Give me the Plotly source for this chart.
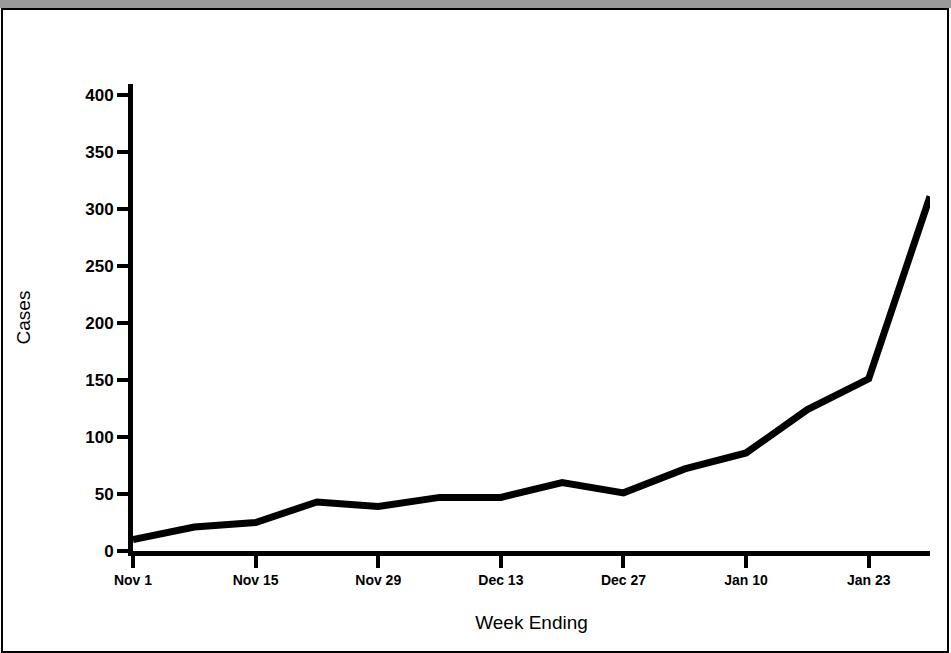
import plotly.graph_objects as go

weeks = ["Nov 1", "Nov 8", "Nov 15", "Nov 22", "Nov 29", "Dec 6", "Dec 13",
         "Dec 20", "Dec 27", "Jan 3", "Jan 10", "Jan 17", "Jan 23", "Jan 30"]
cases = [10, 21, 25, 43, 39, 47, 47, 60, 51, 72, 86, 124, 151, 311]
tick_labels = ["Nov 1", "Nov 15", "Nov 29", "Dec 13", "Dec 27", "Jan 10", "Jan 23"]
y_ticks = [0, 50, 100, 150, 200, 250, 300, 350, 400]

idx = list(range(len(weeks)))
tick_idx = [weeks.index(t) for t in tick_labels]

fig = go.Figure()
fig.add_trace(go.Scatter(x=idx, y=cases, mode="lines",
                         line=dict(color="black", width=7),
                         hovertext=weeks, showlegend=False))

W, H = 951, 653
L, R, T, B = 133, 21, 84, 102
pw, ph = W - L - R, H - T - B

def px(xp):
    return (xp - L) / pw

def py(yp):
    return 1 - (yp - T) / ph

fig.update_layout(
    width=W, height=H,
    margin=dict(l=L, r=R, t=T, b=B),
    paper_bgcolor="white", plot_bgcolor="white",
    font=dict(family="Liberation Sans, Arial, sans-serif", color="black"),
    xaxis=dict(range=[0, 13], tickvals=tick_idx, ticktext=tick_labels,
               showgrid=False, zeroline=False, showline=True, linewidth=5,
               linecolor="black", ticks="outside", ticklen=12, tickwidth=4,
               tickcolor="black",
               tickfont=dict(size=14, weight="bold", color="black",
                             family="Liberation Sans, Arial"),
               title=dict(text="Week Ending",
                          font=dict(size=19, color="black"), standoff=30)),
    yaxis=dict(range=[0, 409.6], tickvals=y_ticks,
               showgrid=False, zeroline=False, showline=True, linewidth=5,
               linecolor="black", ticks="outside", ticklen=11, tickwidth=4,
               tickcolor="black",
               tickfont=dict(size=17, weight="bold", color="black",
                             family="Liberation Sans, Arial"),
               title=dict(text="Cases",
                          font=dict(size=19, color="black"), standoff=51)),
    shapes=[
        dict(type="rect", xref="paper", yref="paper",
             x0=px(0), x1=px(W), y0=py(0), y1=py(8),
             fillcolor="#9a9a9a", line=dict(width=0), layer="below"),
        dict(type="rect", xref="paper", yref="paper",
             x0=px(2), x1=px(948), y0=py(9), y1=py(652),
             line=dict(color="black", width=2), fillcolor="rgba(0,0,0,0)"),
    ],
)

fig.write_html("out.html", config={"displayModeBar": False},
               post_script="document.body.style.margin='0';document.body.style.overflow='hidden';")
